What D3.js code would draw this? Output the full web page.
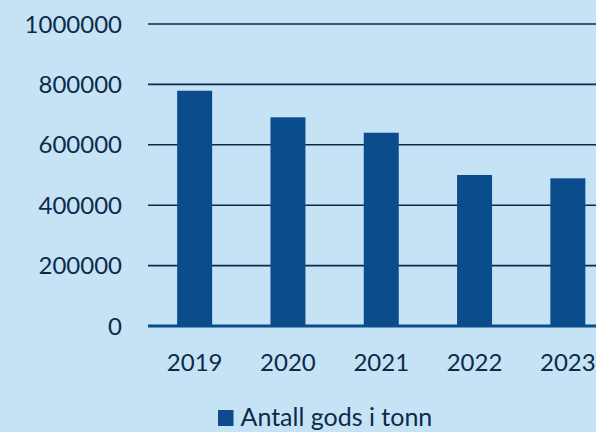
<!DOCTYPE html>
<html>
<head>
<meta charset="utf-8">
<script src="https://cdn.jsdelivr.net/npm/d3@7"></script>
<style>
  body { margin: 0; background: #c5e3f4; overflow: hidden; }
  svg { display: block; }
</style>
</head>
<body>
<svg width="596" height="432"></svg>
<script>
// data
var years = ["2019", "2020", "2021", "2022", "2023"];
var tonn = [779000, 691000, 640000, 500000, 489000];
var yTicks = [0, 200000, 400000, 600000, 800000, 1000000];
var seriesName = "Antall gods i tonn";

var svg = d3.select("svg");
var W = 596, H = 432;
var barColor = "#0b4c8c";
var textColor = "#0d2a4a";
var font = "Lato, 'Open Sans', sans-serif";

svg.append("rect").attr("width", W).attr("height", H).attr("fill", "#c5e3f4");

// plot area runs past the right edge (the picture is cropped)
var plotLeft = 148, plotRight = 614.5, plotTop = 24, plotBottom = 326;

var x = d3.scaleBand().domain(years).range([plotLeft, plotRight]).paddingInner(0.625).paddingOuter(0.3125);
var y = d3.scaleLinear().domain([0, 1000000]).range([plotBottom, plotTop]);

// gridlines
svg.selectAll(".grid")
  .data(yTicks.filter(d => d > 0))
  .enter()
  .append("line")
  .attr("x1", plotLeft)
  .attr("x2", W)
  .attr("y1", d => y(d))
  .attr("y2", d => y(d))
  .attr("stroke", "#0d2a4a")
  .attr("stroke-width", 1.6);

// bars
svg.selectAll(".bar")
  .data(tonn)
  .enter()
  .append("rect")
  .attr("x", (d, i) => x(years[i]))
  .attr("y", d => y(d))
  .attr("width", x.bandwidth())
  .attr("height", d => plotBottom - y(d))
  .attr("fill", barColor);

// base line
svg.append("line")
  .attr("x1", plotLeft)
  .attr("x2", W)
  .attr("y1", plotBottom)
  .attr("y2", plotBottom)
  .attr("stroke", barColor)
  .attr("stroke-width", 3);

// y labels
svg.selectAll(".ylab")
  .data(yTicks)
  .enter()
  .append("text")
  .text(d => d)
  .attr("x", 122)
  .attr("y", d => y(d))
  .attr("dy", "0.36em")
  .attr("text-anchor", "end")
  .attr("font-family", font)
  .attr("font-size", 24)
  .attr("fill", textColor);

// x labels
svg.selectAll(".xlab")
  .data(years)
  .enter()
  .append("text")
  .text(d => d)
  .attr("x", d => x(d) + x.bandwidth() / 2)
  .attr("y", 371)
  .attr("text-anchor", "middle")
  .attr("font-family", font)
  .attr("font-size", 24)
  .attr("fill", textColor);

// legend
svg.append("rect")
  .attr("x", 218)
  .attr("y", 410)
  .attr("width", 15.5)
  .attr("height", 16)
  .attr("fill", barColor);
svg.append("text")
  .text(seriesName)
  .attr("x", 240.5)
  .attr("y", 426)
  .attr("font-family", font)
  .attr("font-size", 25)
  .attr("fill", textColor);
</script>
</body>
</html>
